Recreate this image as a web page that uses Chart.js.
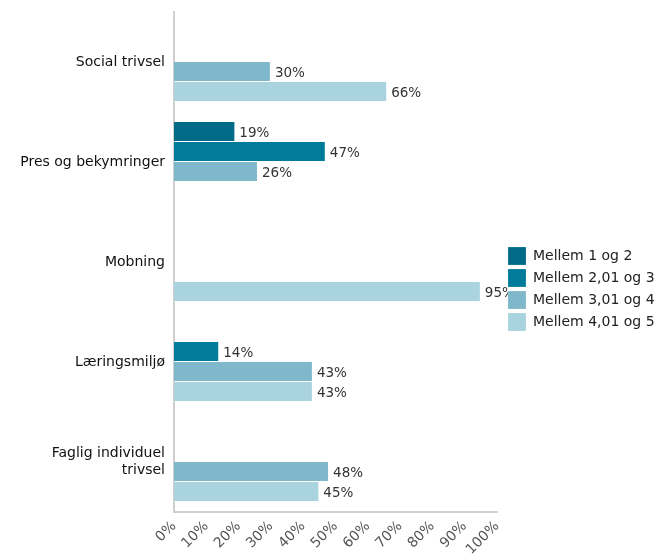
<!DOCTYPE html>
<html>
<head>
<meta charset="utf-8">
<script src="https://cdn.jsdelivr.net/npm/chart.js@4/dist/chart.umd.min.js"></script>
<style>
html,body{margin:0;padding:0;background:#fff;}
#wrap{width:657px;height:558px;position:relative;}
</style>
</head>
<body>
<div id="wrap"><canvas id="c" width="657" height="558"></canvas></div>
<script>
const categories = ["Social trivsel", "Pres og bekymringer", "Mobning", "Læringsmiljø", ["Faglig individuel", "trivsel"]];
const seriesNames = ["Mellem 1 og 2", "Mellem 2,01 og 3", "Mellem 3,01 og 4", "Mellem 4,01 og 5"];
const mellem1og2 = [null, 19, null, null, null];
const mellem201og3 = [null, 47, null, 14, null];
const mellem301og4 = [30, 26, null, 43, 48];
const mellem401og5 = [66, null, 95, 43, 45];
const seriesColors = ["#006b87", "#007b9a", "#7fb8cb", "#a9d3df"];
const xTicks = [0, 10, 20, 30, 40, 50, 60, 70, 80, 90, 100];

const seriesValues = [mellem1og2, mellem201og3, mellem301og4, mellem401og5];
const FONT = "'DejaVu Sans', Verdana, sans-serif";

const valueLabels = {
  id: 'valueLabels',
  afterDatasetsDraw(chart) {
    const ctx = chart.ctx;
    const area = chart.chartArea;
    ctx.save();
    ctx.beginPath();
    ctx.rect(area.left, area.top - 5, area.right - area.left + 11, area.bottom - area.top + 10);
    ctx.clip();
    ctx.font = "13.5px " + FONT;
    ctx.fillStyle = "#333";
    ctx.textAlign = "left";
    ctx.textBaseline = "middle";
    chart.data.datasets.forEach((ds, i) => {
      const meta = chart.getDatasetMeta(i);
      meta.data.forEach((el, j) => {
        const v = ds.data[j];
        if (v === null || v === undefined) return;
        ctx.fillText(v + "%", el.x + 4, el.y + 1);
      });
    });
    ctx.restore();
  }
};

const legendShift = {
  id: 'legendShift',
  afterLayout(chart) {
    const lg = chart.legend;
    if (!lg) return;
    lg.left += 7; lg.right += 7;
    lg.top += 4; lg.bottom += 4;
  }
};

new Chart(document.getElementById('c'), {
  type: 'bar',
  data: {
    labels: categories,
    datasets: seriesValues.map((vals, i) => ({
      label: seriesNames[i],
      data: vals,
      backgroundColor: seriesColors[i],
      borderColor: "rgba(255,255,255,0.35)",
      borderWidth: {top: 0, left: 0, right: 1, bottom: 1},
      barPercentage: 1,
      categoryPercentage: 0.8,
      skipNull: false
    }))
  },
  options: {
    indexAxis: 'y',
    responsive: false,
    animation: false,
    devicePixelRatio: 1,
    layout: {padding: {top: 12, right: 0, left: 0, bottom: 0}},
    plugins: {
      legend: {
        position: 'right',
        align: 'center',
        maxWidth: 160,
        labels: {
          boxWidth: 18,
          boxHeight: 18,
          padding: 4,
          color: "#222",
          font: {family: FONT, size: 14}
        }
      },
      tooltip: {enabled: false}
    },
    scales: {
      x: {
        min: 0,
        max: 100,
        afterBuildTicks(scale) { scale.ticks = xTicks.map(v => ({value: v})); },
        afterFit(scale) { scale.height = 46; scale.paddingLeft = 0; scale.paddingRight = 0; },
        grid: {display: false, drawOnChartArea: false, drawTicks: true, tickLength: 5, color: "#ccc"},
        border: {display: true, color: "#cfcfcf", width: 2},
        ticks: {
          minRotation: 45, maxRotation: 45,
          color: "#555",
          font: {family: FONT, size: 14},
          padding: 1,
          callback: v => v + "%"
        }
      },
      y: {
        afterFit(scale) { scale.width = 174; scale.paddingTop = 0; scale.paddingBottom = 0; },
        grid: {display: false, drawOnChartArea: false, drawTicks: true, tickLength: 5, color: "#ccc"},
        border: {display: true, color: "#cfcfcf", width: 2},
        ticks: {
          color: "#111",
          font: {family: FONT, size: 14},
          padding: 4
        }
      }
    }
  },
  plugins: [valueLabels, legendShift]
});
</script>
</body>
</html>
